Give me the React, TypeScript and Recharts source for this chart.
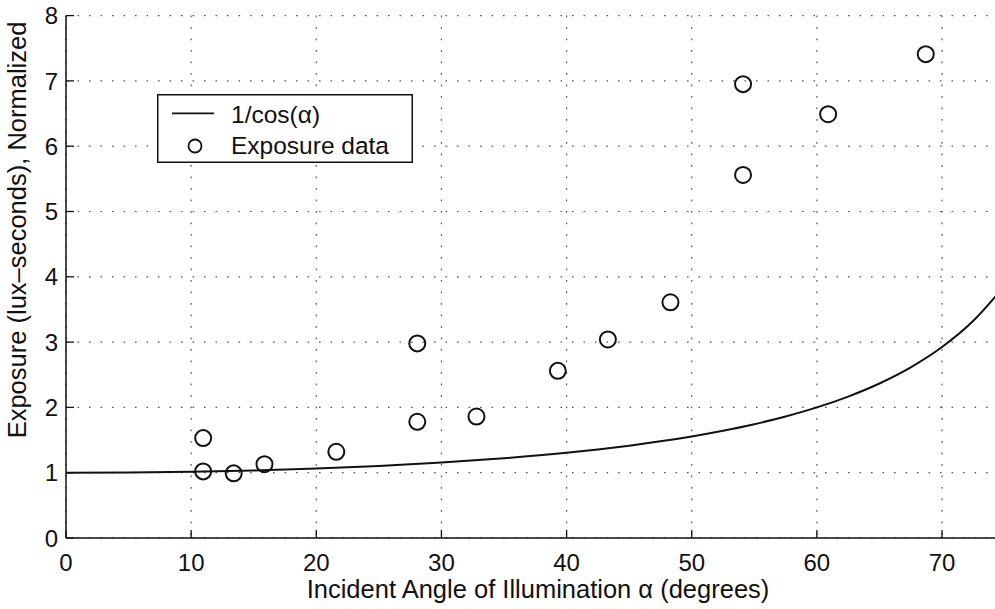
import React from 'react';
import { ComposedChart, Line, Scatter, XAxis, YAxis, CartesianGrid, Legend, Label } from 'recharts';

// 1/cos(alpha) curve, read at fixed angles (degrees)
const curveAngles = [0, 5, 10, 15, 20, 25, 30, 35, 40, 42.5, 45, 47.5, 50, 52.5, 55, 57.5, 60, 62.5, 65, 67.5, 70, 72.5, 75];
const curveValues = [1.0, 1.004, 1.015, 1.035, 1.064, 1.103, 1.155, 1.221, 1.305, 1.356, 1.414, 1.48, 1.556, 1.643, 1.743, 1.861, 2.0, 2.166, 2.366, 2.613, 2.924, 3.326, 3.864];

// Exposure data points
const dataAngles = [10.96, 10.96, 13.4, 15.86, 21.6, 28.07, 28.07, 32.8, 39.3, 43.3, 48.3, 54.1, 54.1, 60.9, 68.7];
const dataValues = [1.53, 1.02, 0.99, 1.13, 1.32, 2.98, 1.78, 1.86, 2.56, 3.04, 3.61, 6.95, 5.56, 6.49, 7.41];

const xTicks = [0, 10, 20, 30, 40, 50, 60, 70];
const yTicks = [0, 1, 2, 3, 4, 5, 6, 7, 8];

const curveData = curveAngles.map((a, i) => ({ x: a, y: curveValues[i] }));
const scatterData = dataAngles.map((a, i) => ({ x: a, y: dataValues[i] }));

const FONT = '"Liberation Sans", Arial, Helvetica, sans-serif';
const INK = '#111';

const XTick = (props: any) => {
  const { x, y, payload } = props;
  return (
    <g>
      <line x1={x} x2={x} y1={y} y2={y - 8} stroke={INK} strokeWidth={1.3} />
      <text x={x} y={y + 32.7} textAnchor="middle" fontSize={24} fontFamily={FONT} fill={INK}>
        {payload.value}
      </text>
    </g>
  );
};

const YTick = (props: any) => {
  const { x, y, payload } = props;
  return (
    <g>
      <line x1={x} x2={x + 8} y1={y} y2={y} stroke={INK} strokeWidth={1.3} />
      <text x={x - 8} y={y} dy="0.36em" textAnchor="end" fontSize={24} fontFamily={FONT} fill={INK}>
        {payload.value}
      </text>
    </g>
  );
};

const LegendBox = () => (
  <svg width={256} height={69} style={{ display: 'block' }}>
    <rect x={0.75} y={0.75} width={254.5} height={67.5} fill="#fff" stroke={INK} strokeWidth={1.5} />
    <line x1={15} x2={57} y1={19.3} y2={19.3} stroke={INK} strokeWidth={1.8} />
    <text x={74} y={29.3} fontSize={24.5} fontFamily={FONT} fill={INK}>1/cos(α)</text>
    <circle cx={38} cy={52} r={6.5} fill="none" stroke={INK} strokeWidth={1.8} />
    <text x={74} y={60} fontSize={24.5} fontFamily={FONT} fill={INK}>Exposure data</text>
  </svg>
);

const Circle = (props: any) => {
  const { cx, cy } = props;
  return <circle cx={cx} cy={cy} r={8} fill="none" stroke={INK} strokeWidth={2} />;
};

export default function App() {
  return (
    <div style={{ position: 'fixed', left: 0, top: 0, width: 995, height: 609, overflow: 'hidden', background: '#fff' }}>
      <ComposedChart width={1040} height={609} margin={{ top: 15.6, right: 35.4, bottom: 0, left: 0 }}>
        <CartesianGrid stroke="#555" strokeWidth={1.2} strokeDasharray="1.6 9.9" />
        <XAxis
          type="number"
          dataKey="x"
          domain={[0, 75]}
          ticks={xTicks}
          allowDataOverflow
          height={71}
          tickSize={0}
          tickMargin={0}
          tickLine={false}
          tick={<XTick />}
          axisLine={{ stroke: INK, strokeWidth: 1.5 }}
        >
          <Label
            content={() => (
              <text x={538} y={598} textAnchor="middle" fontSize={25.5} fontFamily={FONT} fill={INK}>
                Incident Angle of Illumination α (degrees)
              </text>
            )}
          />
        </XAxis>
        <YAxis
          type="number"
          domain={[0, 8]}
          ticks={yTicks}
          width={66}
          tickSize={0}
          tickMargin={0}
          tickLine={false}
          tick={<YTick />}
          axisLine={{ stroke: INK, strokeWidth: 1.5 }}
        >
          <Label
            content={() => (
              <text
                x={26}
                y={230}
                transform="rotate(-90, 26, 230)"
                textAnchor="middle"
                fontSize={25.5}
                fontFamily={FONT}
                fill={INK}
              >
                Exposure (lux–seconds), Normalized
              </text>
            )}
          />
        </YAxis>
        <Line
          data={curveData}
          dataKey="y"
          type="monotone"
          stroke={INK}
          strokeWidth={2}
          dot={false}
          activeDot={false}
          isAnimationActive={false}
        />
        <Scatter data={scatterData} dataKey="y" shape={<Circle />} isAnimationActive={false} />
        <Legend
          verticalAlign="middle"
          align="center"
          content={() => <LegendBox />}
          wrapperStyle={{ position: 'absolute', left: 157, top: 94, width: 256, height: 69 }}
        />
      </ComposedChart>
    </div>
  );
}
